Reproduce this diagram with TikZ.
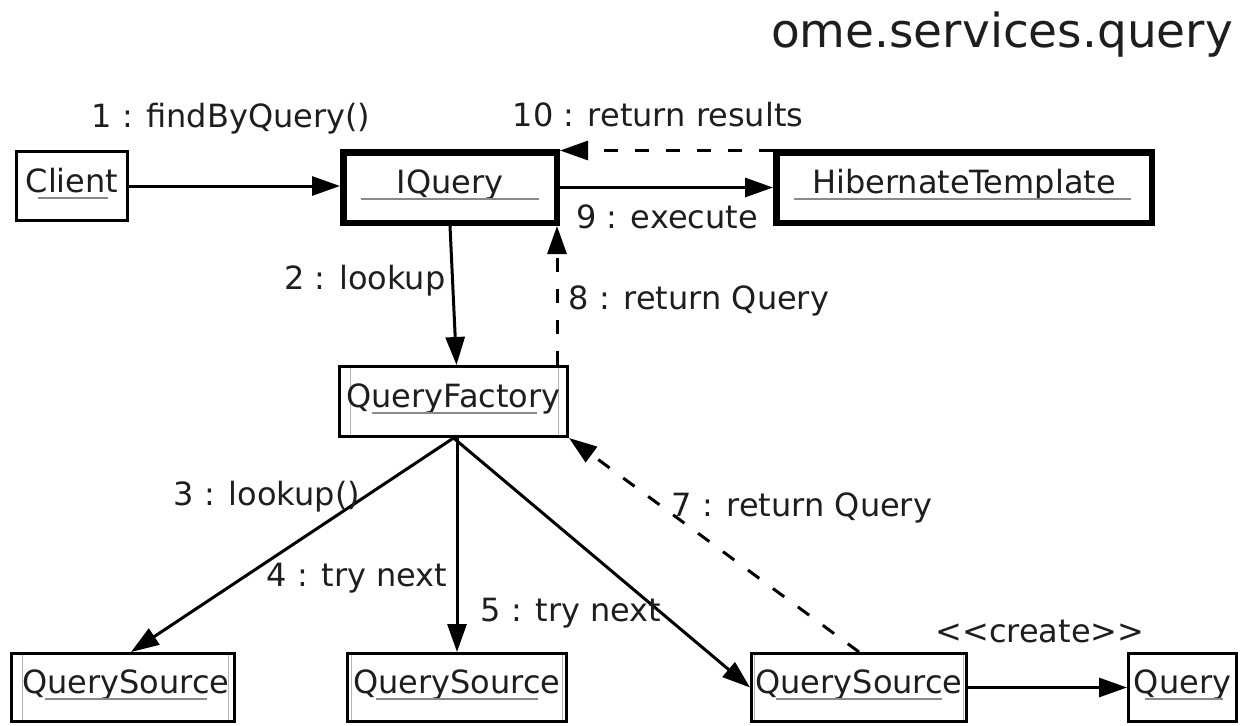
\documentclass[tikz,border=0pt]{standalone}
\usepackage{fontspec}
\setmainfont{DejaVu Sans}
\usetikzlibrary{arrows.meta,calc}
\definecolor{txt}{HTML}{1E1E1E}
\definecolor{ulc}{HTML}{8A8A8A}
\definecolor{inl}{HTML}{B4B4B4}
\newcommand\ulinefor[3]{\draw[uline] ($(#1.base west)!#2!(#1.base east)+(0,5.5)$) -- ($(#1.base west)!#3!(#1.base east)+(0,5.5)$);}
\begin{document}
\begin{tikzpicture}[x=1pt,y=-1pt,
  box/.style={draw=black, line width=3pt, fill=white, inner sep=0pt},
  thickbox/.style={box, line width=6.5pt},
  innerline/.style={draw=inl, line width=1pt},
  active/.style 2 args={path picture={
      \draw[innerline] ([xshift=#1]path picture bounding box.south west) -- ([xshift=#1]path picture bounding box.north west);
      \draw[innerline] ([xshift=-#2]path picture bounding box.south east) -- ([xshift=-#2]path picture bounding box.north east);}},
  otext/.style={inner sep=0pt, text height=0.76em, text depth=0.24em, text=txt, font=\fontsize{32}{38}\selectfont},
  lbl/.style={inner sep=0pt, text=txt, font=\fontsize{32}{38}\selectfont},
  uline/.style={draw=ulc, line width=2pt},
  msg/.style={draw=black, line width=3pt, -{Triangle[length=28pt,width=19pt]}},
  ret/.style={msg, dash pattern=on 14pt off 17pt},
]
\useasboundingbox (0,0) rectangle (1244,725);

% title
\node[lbl, font=\fontsize{47}{56}\selectfont] (title) at (1002,35) {ome.services.query};

% boxes
\node[box, minimum width=111pt, minimum height=69pt] (client) at (72,186) {};
\node[thickbox, minimum width=213.5pt, minimum height=70.5pt] (iquery) at (450,187.5) {};
\node[thickbox, minimum width=375.5pt, minimum height=70.5pt] (hib) at (964,187.5) {};
\node[box, active={11pt}{9pt}, minimum width=228pt, minimum height=70pt] (qf) at (453.5,401.5) {};
\node[box, active={11pt}{6pt}, minimum width=223pt, minimum height=68pt] (qs1) at (123,687.5) {};
\node[box, active={4pt}{4pt}, minimum width=219pt, minimum height=68pt] (qs2) at (457,687.5) {};
\node[box, active={3pt}{3pt}, minimum width=215pt, minimum height=68pt] (qs3) at (859,687.5) {};
\node[box, minimum width=108pt, minimum height=68pt] (query) at (1182.5,687.5) {};

% box texts
\node[otext] (clientT) at ([yshift=-3.5pt]client.center) {Client};
\node[otext] (iqueryT) at ([yshift=-3.5pt]iquery.center) {IQuery};
\node[otext] (hibT) at ([yshift=-3.5pt]hib.center) {HibernateTemplate};
\node[otext] (qfT) at ([yshift=-3.5pt]qf.center) {QueryFactory};
\node[otext] (qs1T) at ([xshift=3pt,yshift=-3.5pt]qs1.center) {QuerySource};
\node[otext] (qs2T) at ([yshift=-3.5pt]qs2.center) {QuerySource};
\node[otext] (qs3T) at ([yshift=-3.5pt]qs3.center) {QuerySource};
\node[otext] (queryT) at ([yshift=-3.5pt]query.center) {Query};

\ulinefor{clientT}{0.13}{0.89}
\ulinefor{iqueryT}{-0.33}{1.33}
\ulinefor{hibT}{-0.06}{1.05}
\ulinefor{qfT}{0.12}{0.89}
\ulinefor{qs1T}{0.11}{0.89}
\ulinefor{qs2T}{0.11}{0.89}
\ulinefor{qs3T}{0.1}{0.9}
\ulinefor{queryT}{0.12}{0.91}

% connectors
\draw[msg] (client.east) -- (client.east -| iquery.west);
\draw[msg] (iquery.east) -- (hib.west);
\draw[ret] ([yshift=-1.5pt]hib.north west) -- ([yshift=-1.5pt]hib.north west -| iquery.east);
\draw[msg] (iquery.south) -- ([xshift=3pt]qf.north);
\draw[ret] ([xshift=-3pt]iquery.south east |- qf.north) -- ([xshift=-3pt]iquery.south east);
\draw[msg] (qf.south) -- ([xshift=8pt]qs1.north);
\draw[msg] (qf.south -| qs2.north) -- (qs2.north);
\draw[msg] (qf.south) -- (qs3.west);
\draw[ret] (qs3.north) -- (qf.south east);
\draw[msg] (qs3.east) -- (query.west);

% labels
\node[lbl] (l1) at (231,119) {1 : findByQuery()};
\node[lbl] (l10) at (658,115) {10 : return results};
\node[lbl] (l9) at (667,217) {9 : execute};
\node[lbl] (l2) at (365,281) {2 : lookup};
\node[lbl] (l8) at (699,301) {8 : return Query};
\node[lbl] (l3) at (267,497) {3 : lookup()};
\node[lbl] (l4) at (357,578) {4 : try next};
\node[lbl] (l5) at (571,613) {5 : try next};
\node[lbl] (l7) at (802,508) {7 : return Query};
\node[lbl] (lc) at (1040,631) {<{}<create>{}>};
\end{tikzpicture}
\end{document}
